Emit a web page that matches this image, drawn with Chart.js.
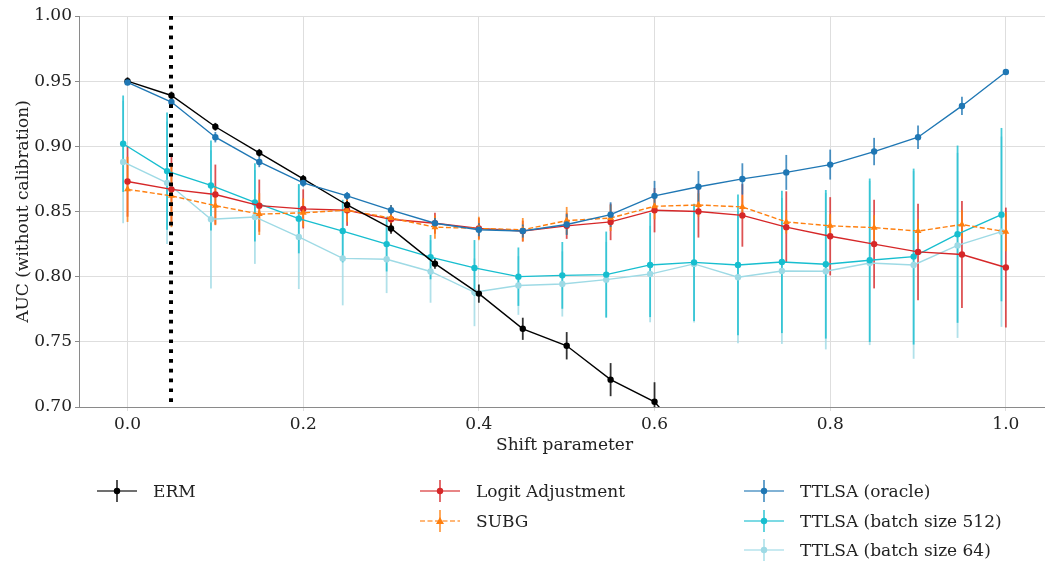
<!DOCTYPE html>
<html>
<head>
<meta charset="utf-8">
<script src="https://cdn.jsdelivr.net/npm/chart.js@4.4.1/dist/chart.umd.min.js"></script>
<style>
  html, body { margin: 0; padding: 0; background: #fff; overflow: hidden; width: 1045px; height: 563px; }
  #wrap { position: relative; width: 1060px; height: 563px; }
  canvas { position: absolute; left: 0; top: 0; }
  .leg { position: absolute; display: flex; align-items: center; font-family: "DejaVu Serif", serif; font-size: 17px; color: #222; white-space: nowrap; }
  .leg svg { margin-right: 16px; }
</style>
</head>
<body>
<div id="wrap">
  <canvas id="c" width="1060" height="563"></canvas>
</div>
<script>
// ---------------- data ----------------
const shift = [0.00, 0.05, 0.10, 0.15, 0.20, 0.25, 0.30, 0.35, 0.40, 0.45, 0.50,
               0.55, 0.60, 0.65, 0.70, 0.75, 0.80, 0.85, 0.90, 0.95, 1.00];
const xTickValues = [0.0, 0.2, 0.4, 0.6, 0.8, 1.0];
const shiftMarker = 0.05;           // dotted vertical reference line
const batchDodge = -0.005;          // horizontal dodge of the batch-size series

const seriesNames = ["ERM", "Logit Adjustment", "SUBG", "TTLSA (oracle)",
                     "TTLSA (batch size 512)", "TTLSA (batch size 64)"];

const ermMean = [0.950, 0.939, 0.915, 0.895, 0.875, 0.855, 0.837, 0.810, 0.787, 0.760, 0.747,
                 0.721, 0.704, 0.665, null, null, null, null, null, null, null];
const ermErr  = [0.003, 0.003, 0.003, 0.003, 0.003, 0.003, 0.004, 0.004, 0.007, 0.0085, 0.0105,
                 0.0127, 0.015, 0.017, null, null, null, null, null, null, null];

const logitMean = [0.873, 0.867, 0.863, 0.8545, 0.852, 0.851, 0.844, 0.841, 0.837, 0.835, 0.839,
                   0.842, 0.851, 0.850, 0.847, 0.838, 0.831, 0.825, 0.819, 0.817, 0.807];
const logitErr  = [0.027, 0.026, 0.023, 0.020, 0.015, 0.012, 0.010, 0.008, 0.008, 0.008, 0.010,
                   0.014, 0.017, 0.020, 0.024, 0.0275, 0.030, 0.034, 0.037, 0.041, 0.046];

const subgMean = [0.867, 0.862, 0.8545, 0.848, 0.849, 0.851, 0.845, 0.838, 0.837, 0.836, 0.843,
                  0.845, 0.854, 0.855, 0.8535, 0.842, 0.839, 0.8376, 0.835, 0.840, 0.8345];
const subgErr  = [0.025, 0.024, 0.015, 0.016, 0.011, 0.009, 0.010, 0.009, 0.009, 0.009, 0.0105,
                  0.010, 0.010, 0.009, 0.009, 0.009, 0.009, 0.0096, 0.009, 0.011, 0.015];

const oracleMean = [0.949, 0.934, 0.907, 0.888, 0.872, 0.862, 0.851, 0.841, 0.836, 0.835, 0.840,
                    0.8476, 0.862, 0.869, 0.875, 0.880, 0.886, 0.896, 0.907, 0.931, 0.957];
const oracleErr  = [0.002, 0.004, 0.004, 0.004, 0.003, 0.003, 0.004, 0.004, 0.005, 0.005, 0.008,
                    0.0095, 0.0115, 0.012, 0.012, 0.0134, 0.0115, 0.0105, 0.009, 0.007, 0.002];

const b512Mean = [0.902, 0.881, 0.870, 0.857, 0.8445, 0.835, 0.825, 0.815, 0.8067, 0.800, 0.801,
                  0.8016, 0.809, 0.811, 0.809, 0.8113, 0.8095, 0.8126, 0.8154, 0.8326, 0.8476];
const b512Err  = [0.037, 0.045, 0.0345, 0.030, 0.0266, 0.024, 0.021, 0.017, 0.0214, 0.0224, 0.0256,
                  0.033, 0.040, 0.045, 0.054, 0.0546, 0.057, 0.0627, 0.0675, 0.068, 0.0665];

const b64Mean = [0.888, 0.872, 0.844, 0.8458, 0.8305, 0.814, 0.8134, 0.804, 0.788, 0.7932, 0.7944,
                 0.7977, 0.802, 0.8098, 0.7996, 0.8044, 0.8042, 0.8105, 0.809, 0.824, 0.8345];
const b64Err  = [0.047, 0.047, 0.053, 0.036, 0.040, 0.036, 0.026, 0.024, 0.026, 0.0225, 0.025,
                 0.029, 0.037, 0.045, 0.0506, 0.056, 0.060, 0.063, 0.072, 0.071, 0.073];

// ---------------- styles ----------------
const FONT = "DejaVu Serif";
const FS = 17;
const GRID = "#dedede";
const SPINE = "#8a8a8a";

function pts(xs, ys, dx) {
  return xs.map((x, i) => ({ x: x + (dx || 0), y: ys[i] }));
}
function withAlpha(hex, a) {
  const n = parseInt(hex.slice(1), 16);
  return `rgba(${(n >> 16) & 255},${(n >> 8) & 255},${n & 255},${a})`;
}

const styles = [
  { color: "#000000", pointStyle: "circle",   dash: [],       order: 1, errOrder: 5, dx: 0 },
  { color: "#d62728", pointStyle: "circle",   dash: [],       order: 3, errOrder: 2, dx: 0 },
  { color: "#ff7f0e", pointStyle: "triangle", dash: [5, 2.5], order: 2, errOrder: 3, dx: 0 },
  { color: "#1f77b4", pointStyle: "circle",   dash: [],       order: 0, errOrder: 4, dx: 0 },
  { color: "#17becf", pointStyle: "circle",   dash: [],       order: 4, errOrder: 1, dx: batchDodge },
  { color: "#9edae5", pointStyle: "circle",   dash: [],       order: 5, errOrder: 0, dx: batchDodge }
];
const means = [ermMean, logitMean, subgMean, oracleMean, b512Mean, b64Mean];
const errs  = [ermErr, logitErr, subgErr, oracleErr, b512Err, b64Err];

const datasets = seriesNames.map((name, k) => {
  const s = styles[k];
  return {
    label: name,
    data: pts(shift, means[k], s.dx),
    errors: errs[k],
    errOrder: s.errOrder,
    borderColor: s.color,
    backgroundColor: s.color,
    borderWidth: 1.4,
    borderDash: s.dash,
    pointStyle: s.pointStyle,
    pointRadius: s.pointStyle === "triangle" ? 4 : 3.2,
    pointBorderWidth: 0,
    pointBackgroundColor: s.color,
    pointHoverRadius: 3,
    tension: 0,
    spanGaps: false,
    order: s.order,
    clip: 0
  };
});

// error bars drawn beneath all lines, via the chart's scales
const errorBarPlugin = {
  id: "errorBars",
  beforeDatasetsDraw(chart) {
    const { ctx, chartArea: a, scales: { x, y } } = chart;
    ctx.save();
    ctx.beginPath();
    ctx.rect(a.left, a.top, a.right - a.left, a.bottom - a.top);
    ctx.clip();
    const list = chart.data.datasets.map((d, i) => i)
      .sort((p, q) => chart.data.datasets[p].errOrder - chart.data.datasets[q].errOrder);
    for (const i of list) {
      const ds = chart.data.datasets[i];
      ctx.strokeStyle = withAlpha(ds.borderColor, 0.8);
      ctx.lineWidth = 1.8;
      ctx.setLineDash([]);
      ds.data.forEach((p, j) => {
        const e = ds.errors[j];
        if (p.y == null || e == null) return;
        const px = x.getPixelForValue(p.x);
        ctx.beginPath();
        ctx.moveTo(px, y.getPixelForValue(p.y - e));
        ctx.lineTo(px, y.getPixelForValue(p.y + e));
        ctx.stroke();
      });
    }
    ctx.restore();
  },
  afterDatasetsDraw(chart) {
    const { ctx, chartArea: a, scales: { x } } = chart;
    const px = Math.round(x.getPixelForValue(shiftMarker));
    ctx.save();
    ctx.strokeStyle = "#000";
    ctx.lineWidth = 4;
    ctx.setLineDash([3.7, 6.1]);
    ctx.beginPath();
    ctx.moveTo(px, a.top);
    ctx.lineTo(px, a.bottom);
    ctx.stroke();
    ctx.restore();
  }
};

Chart.defaults.font.family = FONT;
Chart.defaults.font.size = FS;
Chart.defaults.color = "#222";

new Chart(document.getElementById("c"), {
  type: "line",
  data: { datasets },
  plugins: [errorBarPlugin],
  options: {
    responsive: false,
    animation: false,
    devicePixelRatio: 1,
    layout: { padding: { top: 16, right: 10, bottom: 100, left: 0 } },
    plugins: { legend: { display: false }, tooltip: { enabled: false } },
    elements: { line: { borderCapStyle: "butt" } },
    scales: {
      x: {
        type: "linear",
        min: -0.05525,
        max: 1.05025,
        afterBuildTicks(scale) { scale.ticks = xTickValues.map(v => ({ value: v })); },
        afterFit(scale) { scale.height = 56; },
        ticks: { padding: 3, color: "#222", callback: v => v.toFixed(1), maxRotation: 0, autoSkip: false },
        grid: { color: GRID, lineWidth: 1, tickLength: 4, tickColor: GRID, drawTicks: true },
        border: { display: true, color: SPINE, width: 1 },
        title: { display: true, text: "Shift parameter", color: "#222", padding: { top: 0, bottom: 7 },
                 font: { family: FONT, size: FS } }
      },
      y: {
        type: "linear",
        min: 0.70,
        max: 1.00,
        afterFit(scale) { scale.width = 79; },
        ticks: { stepSize: 0.05, padding: 3, color: "#222", callback: v => v.toFixed(2) },
        grid: { color: GRID, lineWidth: 1, tickLength: 4, tickColor: SPINE },
        border: { display: true, color: SPINE, width: 1 },
        title: { display: true, text: "AUC (without calibration)", color: "#222", padding: { top: 13, bottom: 0 },
                 font: { family: FONT, size: FS } }
      }
    }
  }
});

// ---------------- legend (HTML) ----------------
const legendCols = [97, 420, 744];
const legendRows = [491, 521, 550];
const legendSlots = [[0, 0], [1, 0], [1, 1], [2, 0], [2, 1], [2, 2]];
const wrap = document.getElementById("wrap");
seriesNames.forEach((name, k) => {
  const s = styles[k];
  const [c, r] = legendSlots[k];
  const div = document.createElement("div");
  div.className = "leg";
  div.style.left = legendCols[c] + "px";
  div.style.top = (legendRows[r] - 12) + "px";
  div.style.height = "24px";
  const marker = s.pointStyle === "triangle"
    ? `<polygon points="20,8 24,15 16,15" fill="${s.color}"/>`
    : `<circle cx="20" cy="12" r="3.2" fill="${s.color}"/>`;
  div.innerHTML =
    `<svg width="40" height="24" viewBox="0 0 40 24">
       <line x1="0" y1="12" x2="40" y2="12" stroke="${withAlpha(s.color, 0.75)}" stroke-width="1.6" ${s.dash.length ? 'stroke-dasharray="5 2.5"' : ''}/>
       <line x1="20" y1="1" x2="20" y2="23" stroke="${withAlpha(s.color, 0.85)}" stroke-width="1.6"/>
       ${marker}
     </svg><span>${name}</span>`;
  wrap.appendChild(div);
});
</script>
</body>
</html>
